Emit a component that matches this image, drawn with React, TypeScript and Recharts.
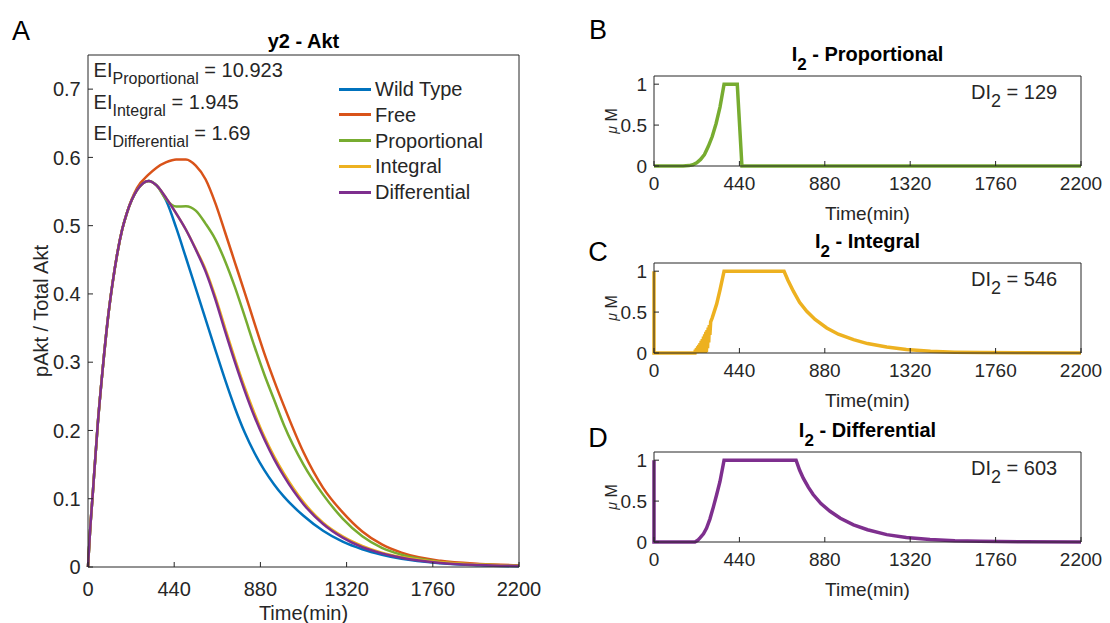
import React from 'react';
import { LineChart, Line, XAxis, YAxis } from 'recharts';

// axis ticks
const timeTicks = [0, 440, 880, 1320, 1760, 2200];
const aktTicks = [0, 0.1, 0.2, 0.3, 0.4, 0.5, 0.6, 0.7];
const uMTicks = [0, 0.5, 1];

// panel A: pAkt / total Akt
const aktTime = [0, 10, 25, 50, 75, 100, 125, 150, 175, 200, 250, 310, 350, 400, 450, 500, 550, 600, 650, 700, 750, 800, 850, 900, 950, 1000, 1100, 1200, 1300, 1400, 1500, 1600, 1800, 2000, 2200];
const wildType = [0, 0.05, 0.11, 0.21, 0.29, 0.36, 0.415, 0.46, 0.495, 0.52, 0.552, 0.5656, 0.559, 0.536, 0.497, 0.453, 0.408, 0.363, 0.318, 0.274, 0.233, 0.197, 0.167, 0.142, 0.121, 0.103, 0.075, 0.053, 0.037, 0.026, 0.018, 0.012, 0.0055, 0.0025, 0.001];
const free = [0, 0.05, 0.11, 0.21, 0.29, 0.36, 0.415, 0.46, 0.495, 0.52, 0.555, 0.575, 0.585, 0.593, 0.597, 0.597, 0.588, 0.568, 0.533, 0.49, 0.446, 0.402, 0.357, 0.313, 0.273, 0.236, 0.168, 0.116, 0.08, 0.052, 0.033, 0.021, 0.009, 0.0045, 0.0025];
const proportional = [0, 0.05, 0.11, 0.21, 0.29, 0.36, 0.415, 0.46, 0.495, 0.52, 0.552, 0.5656, 0.559, 0.538, 0.528, 0.5285, 0.522, 0.503, 0.48, 0.448, 0.41, 0.367, 0.323, 0.282, 0.245, 0.208, 0.15, 0.106, 0.071, 0.045, 0.028, 0.018, 0.0075, 0.0035, 0.002];
const integral = [0, 0.05, 0.11, 0.21, 0.29, 0.36, 0.415, 0.46, 0.495, 0.52, 0.552, 0.5656, 0.559, 0.54, 0.518, 0.494, 0.466, 0.436, 0.396, 0.35, 0.305, 0.263, 0.225, 0.191, 0.162, 0.137, 0.095, 0.065, 0.045, 0.031, 0.021, 0.0145, 0.007, 0.0035, 0.002];
const differential = [0, 0.05, 0.11, 0.21, 0.29, 0.36, 0.415, 0.46, 0.495, 0.52, 0.552, 0.5656, 0.559, 0.54, 0.518, 0.494, 0.465, 0.433, 0.392, 0.345, 0.3, 0.258, 0.22, 0.187, 0.158, 0.133, 0.092, 0.063, 0.043, 0.029, 0.02, 0.0135, 0.006, 0.003, 0.0015];

// panels B-D: inhibitor I2 (uM)
const propTime = [0, 150, 180, 200, 220, 240, 260, 280, 300, 320, 340, 361, 429, 453, 2200];
const propI2 = [0, 0, 0.005, 0.015, 0.04, 0.08, 0.14, 0.24, 0.36, 0.52, 0.72, 1, 1, 0, 0];
const intTime = [0, 0, 211, 213, 216, 219, 222, 225, 228, 231, 234, 237, 240, 243, 246, 249, 252, 255, 258, 261, 264, 267, 270, 273, 276, 279, 282, 285, 288, 292, 300, 323, 340, 361, 670, 690, 718, 750, 787, 830, 890, 950, 1028, 1100, 1199, 1300, 1425, 1550, 1680, 1900, 2200];
const intI2 = [1, 0, 0, 0.04, 0, 0.06, 0, 0.08, 0, 0.1, 0, 0.12, 0, 0.15, 0, 0.17, 0, 0.2, 0, 0.23, 0, 0.26, 0.01, 0.28, 0.06, 0.31, 0.13, 0.34, 0.22, 0.38, 0.43, 0.6, 0.77, 1, 1, 0.89, 0.755, 0.62, 0.51, 0.41, 0.306, 0.23, 0.163, 0.115, 0.073, 0.042, 0.02, 0.01, 0.005, 0.002, 0];
const diffTime = [0, 0, 211, 225, 237, 255, 271, 288, 305, 323, 340, 361, 732, 750, 769, 795, 820, 860, 907, 960, 1028, 1100, 1199, 1300, 1422, 1550, 1680, 1900, 2200];
const diffI2 = [1, 0, 0, 0.02, 0.05, 0.1, 0.17, 0.28, 0.42, 0.58, 0.74, 1, 1, 0.88, 0.78, 0.67, 0.58, 0.47, 0.375, 0.29, 0.21, 0.15, 0.09, 0.055, 0.03, 0.015, 0.008, 0.003, 0];

const seriesNames = ['Wild Type', 'Free', 'Proportional', 'Integral', 'Differential'];
const seriesColors = ['#0072BD', '#D95319', '#77AC30', '#EDB120', '#7E2F8E'];
const seriesValues = [wildType, free, proportional, integral, differential];

const eiNames = ['Proportional', 'Integral', 'Differential'];
const eiValues = ['10.923', '1.945', '1.69'];

const AX = '#262626';
const FONT = "'Liberation Sans', Arial, Helvetica, sans-serif";

const aktData = aktTime.map((t, i) => {
  const row: Record<string, number> = { t };
  seriesNames.forEach((n, k) => { row[n] = seriesValues[k][i]; });
  return row;
});

const abs = (x: number, y: number, extra: React.CSSProperties = {}): React.CSSProperties => ({
  position: 'absolute', left: x, top: y, whiteSpace: 'nowrap', lineHeight: 1, ...extra,
});

const Centered = ({ x, y, size = 20, bold = false, rotate = false, color = AX, children }: any) => (
  <div style={abs(x, y, {
    fontSize: size, fontWeight: bold ? 'bold' : 'normal', color,
    transform: `translate(-50%, -50%)${rotate ? ' rotate(-90deg)' : ''}`,
  })}>{children}</div>
);

interface SubProps {
  top: number;
  time: number[];
  values: number[];
  color: string;
  name: string;
  di: number;
  letter: string;
  letterY: number;
}

const SubPanel = ({ top, time, values, color, name, di, letter, letterY }: SubProps) => {
  const data = time.map((t, i) => ({ t, v: values[i] }));
  const plotH = 90;
  return (
    <>
      <div style={abs(580, top - 40)}>
        <LineChart width={530} height={40 + plotH + 40} data={data} margin={{ top: 39, right: 28, bottom: 0, left: 0 }}>
          <XAxis dataKey="t" type="number" domain={[0, 2200]} ticks={timeTicks} interval={0}
            tickSize={-5} tickMargin={16} height={40} stroke={AX} tick={{ fill: AX, fontSize: 19 }} />
          <XAxis xAxisId="top" dataKey="t" orientation="top" type="number" domain={[0, 2200]} ticks={timeTicks}
            tick={false} tickSize={-5} height={1} stroke={AX} />
          <YAxis type="number" domain={[0, 1.1]} ticks={uMTicks} interval={0} tickSize={-5} tickMargin={12}
            width={74} stroke={AX} tick={{ fill: AX, fontSize: 19 }} />
          <YAxis yAxisId="right" orientation="right" type="number" domain={[0, 1.1]} ticks={uMTicks}
            tick={false} tickSize={-5} width={1} stroke={AX} />
          {/* invisible series so the mirrored top/right axes get drawn as the box */}
          <Line xAxisId="top" yAxisId="right" type="linear" dataKey="v" stroke="none" dot={false}
            activeDot={false} legendType="none" isAnimationActive={false} />
          <Line type="linear" dataKey="v" stroke={color} strokeWidth={3.5} dot={false} activeDot={false}
            isAnimationActive={false} />
        </LineChart>
      </div>
      <Centered x={867.5} y={top - 22} bold color="#000">
        I<span style={{ position: 'relative', top: 9, fontSize: 17 }}>2</span> - {name}
      </Centered>
      <div style={abs(971, top + 15.7, { fontSize: 20, color: AX, transform: 'translateY(-50%)' })}>
        DI<span style={{ position: 'relative', top: 8, fontSize: 18 }}>2</span> = {di}
      </div>
      <Centered x={612} y={top + plotH / 2} size={16} rotate>
        <span style={{ fontStyle: 'italic', fontSize: 14 }}>μ</span> M
      </Centered>
      <Centered x={867.5} y={top + plotH + 47} size={19}>Time(min)</Centered>
      <Centered x={598} y={letterY} size={27} color="#000">{letter}</Centered>
    </>
  );
};

const App = () => (
  <div style={{ position: 'absolute', left: 0, top: 0, width: 1110, height: 623, background: '#fff', fontFamily: FONT, overflow: 'hidden' }}>
    <div style={abs(0, 0)}>
      <LineChart width={560} height={623} data={aktData} margin={{ top: 54, right: 40, bottom: 0, left: 0 }}>
        <XAxis dataKey="t" type="number" domain={[0, 2200]} ticks={timeTicks} interval={0}
          tickSize={-5} tickMargin={19.5} height={56} stroke={AX} tick={{ fill: AX, fontSize: 20 }} />
        <XAxis xAxisId="top" dataKey="t" orientation="top" type="number" domain={[0, 2200]} ticks={timeTicks}
          tick={false} tickSize={-5} height={1} stroke={AX} />
        <YAxis type="number" domain={[0, 0.75]} ticks={aktTicks} interval={0} tickSize={-5} tickMargin={12.3}
          width={88} stroke={AX} tick={{ fill: AX, fontSize: 20 }} />
        <YAxis yAxisId="right" orientation="right" type="number" domain={[0, 0.75]} ticks={aktTicks}
          tick={false} tickSize={-5} width={1} stroke={AX} />
        <Line xAxisId="top" yAxisId="right" type="monotone" dataKey={seriesNames[0]} stroke="none" dot={false}
          activeDot={false} legendType="none" isAnimationActive={false} />
        {seriesNames.map((n, k) => (
          <Line key={n} type="monotone" dataKey={n} stroke={seriesColors[k]} strokeWidth={2.5}
            dot={false} activeDot={false} isAnimationActive={false} />
        ))}
      </LineChart>
    </div>

    <Centered x={303.5} y={40.7} bold color="#000">y2 - Akt</Centered>
    <Centered x={303.5} y={613}>Time(min)</Centered>
    <Centered x={41} y={311} rotate>pAkt / Total Akt</Centered>
    <Centered x={21} y={31} size={27} color="#000">A</Centered>

    {eiNames.map((n, i) => (
      <div key={n} style={abs(93.6, 70 + i * 31.7, { fontSize: 20, color: AX, transform: 'translateY(-50%)' })}>
        EI<span style={{ position: 'relative', top: 7, fontSize: 16 }}>{n}</span> = {eiValues[i]}
      </div>
    ))}

    {seriesNames.map((n, k) => (
      <div key={n} style={abs(339, 89 + k * 25.8, { transform: 'translateY(-50%)', fontSize: 20, color: AX, display: 'flex', alignItems: 'center' })}>
        <span style={{ display: 'inline-block', width: 32, height: 3, background: seriesColors[k], marginRight: 4 }} />
        {n}
      </div>
    ))}

    <SubPanel top={76} time={propTime} values={propI2} color="#77AC30" name="Proportional" di={129} letter="B" letterY={30} />
    <SubPanel top={263} time={intTime} values={intI2} color="#EDB120" name="Integral" di={546} letter="C" letterY={252} />
    <SubPanel top={452} time={diffTime} values={diffI2} color="#7E2F8E" name="Differential" di={603} letter="D" letterY={438} />
  </div>
);

export default App;
